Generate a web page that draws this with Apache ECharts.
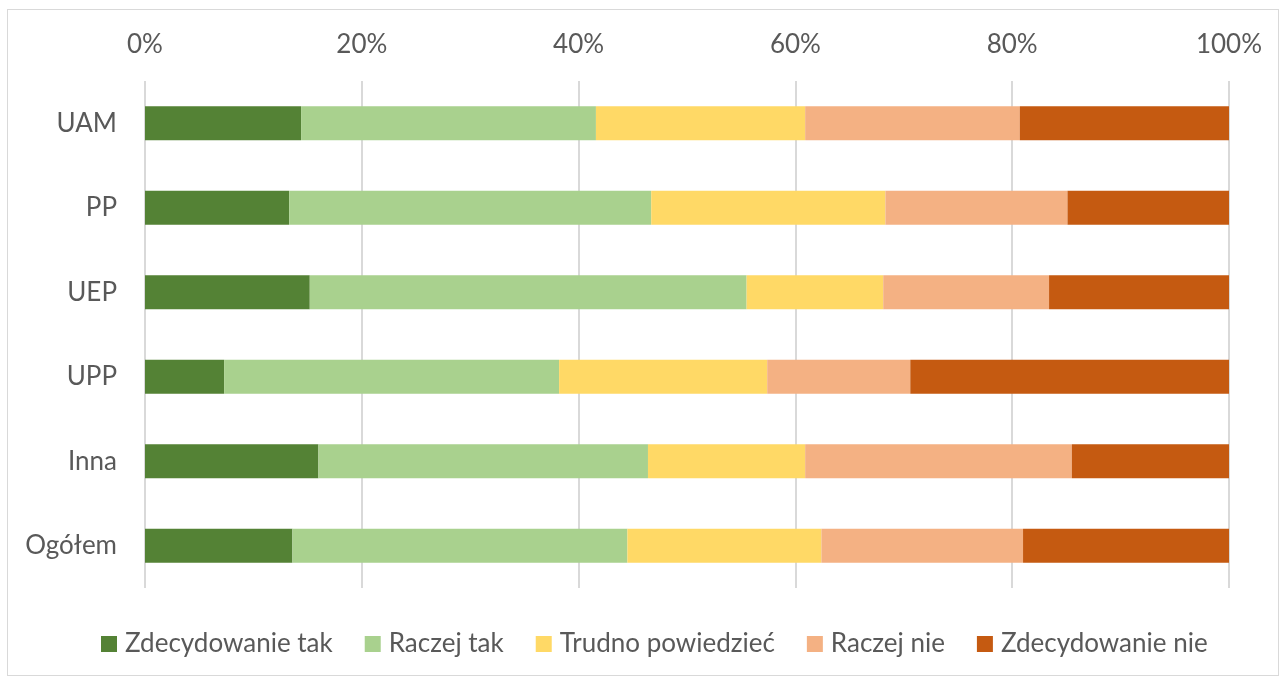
<!DOCTYPE html>
<html>
<head>
<meta charset="utf-8">
<script src="https://cdn.jsdelivr.net/npm/echarts@6/dist/echarts.min.js"></script>
<style>
  html, body { margin: 0; padding: 0; background: #fff; }
  #frame { position: absolute; left: 7px; top: 9px; width: 1272px; height: 667px; border: 1px solid #d9d9d9; box-sizing: border-box; }
  #chart { position: absolute; left: 0; top: 0; width: 1282px; height: 679px; }
</style>
</head>
<body>
<div id="frame"></div>
<div id="chart"></div>
<script>
// kategorie (od góry)
var categories = ['UAM', 'PP', 'UEP', 'UPP', 'Inna', 'Ogółem']
var seriesNames = ['Zdecydowanie tak', 'Raczej tak', 'Trudno powiedzieć', 'Raczej nie', 'Zdecydowanie nie']
var zdecydowanieTak = [14.4, 13.3, 15.2, 7.3, 16.0, 13.6]
var raczejTak = [27.2, 33.4, 40.3, 30.9, 30.4, 30.9]
var trudnoPowiedziec = [19.3, 21.6, 12.6, 19.2, 14.5, 17.9]
var raczejNie = [19.8, 16.8, 15.3, 13.2, 24.6, 18.6]
var zdecydowanieNie = [19.3, 14.9, 16.6, 29.4, 14.5, 19.0]
var colors = ['#548235', '#a9d18e', '#ffd966', '#f4b183', '#c55a11']

var chart = echarts.init(document.getElementById('chart'))
var values = [zdecydowanieTak, raczejTak, trudnoPowiedziec, raczejNie, zdecydowanieNie]
var series = seriesNames.map(function (name, i) {
  return {
    name: name,
    type: 'bar',
    stack: 'all',
    barWidth: '40%',
    itemStyle: { color: colors[i] },
    data: values[i]
  }
})

var option = {
  animation: false,
  textStyle: { fontFamily: 'Lato' },
  color: colors,
  grid: {
    left: 145,
    right: 53,
    top: 81,
    bottom: 91
  },
  // oś x na górze
  xAxis: {
    type: 'value',
    position: 'top',
    min: 0,
    max: 100,
    interval: 20,
    axisLine: { show: false },
    axisTick: { show: false },
    splitLine: { lineStyle: { color: '#d9d9d9', width: 2 } },
    axisLabel: {
      formatter: '{value}%',
      color: '#595959',
      fontSize: 26,
      margin: 23
    }
  },
  yAxis: {
    type: 'category',
    inverse: true,
    data: categories,
    axisLine: { show: false },
    axisTick: { show: false },
    axisLabel: {
      color: '#595959',
      fontSize: 26,
      margin: 28
    }
  },
  legend: {
    bottom: 17,
    left: 96,
    itemWidth: 16,
    itemHeight: 16,
    itemGap: 32,
    icon: 'rect',
    textStyle: { color: '#595959', fontSize: 26, padding: [0, 0, 0, 3] },
    data: seriesNames
  },
  series: series
}
chart.setOption(option)
</script>
</body>
</html>
